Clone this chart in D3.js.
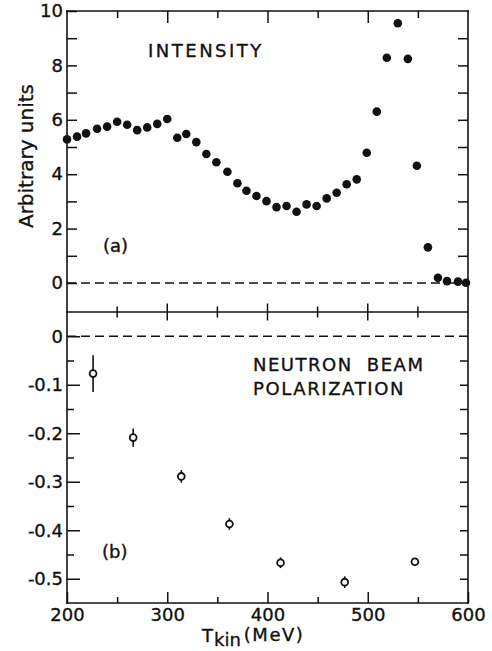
<!DOCTYPE html>
<html>
<head>
<meta charset="utf-8">
<script src="https://cdn.jsdelivr.net/npm/d3@7"></script>
<style>
body { margin: 0; background: #fff; }
svg { display: block; }
</style>
</head>
<body>
<script>
//Values

//(a) intensity, kinetic energy in MeV
var kinEnergy = [200, 210, 219, 230, 240, 250, 260, 270, 280, 290, 300, 310, 319, 329, 339, 349, 360, 370, 379, 389,
                 399, 409, 419, 429, 439, 449, 459, 469, 479, 489, 499, 509, 519, 530, 540, 549, 560, 570, 579, 590, 598];
var intensity = [5.28, 5.38, 5.50, 5.67, 5.75, 5.93, 5.82, 5.62, 5.72, 5.85, 6.03, 5.34, 5.48, 5.18, 4.74, 4.44, 4.09, 3.67, 3.39, 3.20,
                 3.01, 2.79, 2.83, 2.62, 2.89, 2.83, 3.11, 3.32, 3.63, 3.81, 4.79, 6.30, 8.28, 9.55, 8.24, 4.31, 1.31, 0.19, 0.07, 0.05, 0.01];

//(b) neutron beam polarization
var polEnergy = [226, 266, 314, 362, 413, 477, 547];
var polarization = [-0.077, -0.209, -0.289, -0.387, -0.467, -0.507, -0.465];
var polError = [0.038, 0.019, 0.013, 0.012, 0.011, 0.012, 0.004];

//ticks
var xMajorTicks = [200, 300, 400, 500, 600];
var xTickLabels = ["200", "300", "400", "500", "600"];
var xMinorTicks = [250, 350, 450, 550];
var topMajorTicks = [0, 2, 4, 6, 8, 10];
var topTickLabels = ["0", "2", "4", "6", "8", "10"];
var topMinorTicks = [1, 3, 5, 7, 9];
var topRightTicks = [1, 2, 3, 4, 5, 6, 7, 8, 9];
var botMajorTicks = [0, -0.1, -0.2, -0.3, -0.4, -0.5];
var botTickLabels = ["0", "-0.1", "-0.2", "-0.3", "-0.4", "-0.5"];
var botMinorTicks = [-0.05, -0.15, -0.25, -0.35, -0.45];
var botRightTicks = [-0.05, -0.1, -0.15, -0.2, -0.25, -0.3, -0.35, -0.4, -0.45, -0.5];

var ink = "#111";
var font = "DejaVu Sans";

var svg = d3.select("body")
            .append("svg")
            .attr("width", 492)
            .attr("height", 651);

var x = d3.scaleLinear().domain([200, 600]).range([67, 468]);
var yTop = d3.scaleLinear().domain([0, 10]).range([283, 11]);
var yBot = d3.scaleLinear().domain([-0.55, 0.05]).range([603, 312]);

//draws an axis, drops the domain path and styles what is left
function drawAxis(axis, tx, ty){
	var g = svg.append("g")
	           .attr("transform", "translate(" + tx + "," + ty + ")")
	           .call(axis);
	g.select(".domain").remove();
	g.selectAll("line").attr("stroke", ink).attr("stroke-width", 1.5);
	g.selectAll("text")
	 .attr("fill", ink)
	 .attr("stroke", ink)
	 .attr("stroke-width", 0.35)
	 .style("font-family", font)
	 .style("font-size", "18px");
	return g;
}

//top panel, left
drawAxis(d3.axisLeft(yTop).tickValues(topMajorTicks).tickSize(-10).tickPadding(4)
           .tickFormat(function(d, i){ return topTickLabels[i]; }), x(200), 0);
drawAxis(d3.axisLeft(yTop).tickValues(topMinorTicks).tickSize(-10).tickFormat(""), x(200), 0);
//top panel, right
drawAxis(d3.axisRight(yTop).tickValues(topRightTicks).tickSize(-10).tickFormat(""), x(600), 0);
//top border
drawAxis(d3.axisTop(x).tickValues([300, 400, 500]).tickSize(-12).tickFormat(""), 0, yTop(10));
drawAxis(d3.axisTop(x).tickValues(xMinorTicks).tickSize(-7).tickFormat(""), 0, yTop(10));

//bottom panel, left
drawAxis(d3.axisLeft(yBot).tickValues(botMajorTicks).tickSize(-13).tickPadding(4)
           .tickFormat(function(d, i){ return botTickLabels[i]; }), x(200), 0);
drawAxis(d3.axisLeft(yBot).tickValues(botMinorTicks).tickSize(-7).tickFormat(""), x(200), 0);
//bottom panel, right
drawAxis(d3.axisRight(yBot).tickValues(botRightTicks).tickSize(-8).tickFormat(""), x(600), 0);
//bottom x axis
drawAxis(d3.axisBottom(x).tickValues(xMajorTicks).tickSize(-11).tickPadding(5)
           .tickFormat(function(d, i){ return xTickLabels[i]; }), 0, yBot(-0.55));
drawAxis(d3.axisBottom(x).tickValues(xMinorTicks).tickSize(-6).tickFormat(""), 0, yBot(-0.55));

//ticks crossing the line between the panels
var midY = yBot(0.05);
svg.selectAll(".midtick")
   .data([300, 400, 500].map(function(v){ return {v: v, h: 8.5}; })
         .concat(xMinorTicks.map(function(v){ return {v: v, h: 5.5}; })))
   .enter()
   .append("line")
   .attr("class", "midtick")
   .attr("x1", function(d){ return x(d.v); })
   .attr("x2", function(d){ return x(d.v); })
   .attr("y1", function(d){ return midY - d.h; })
   .attr("y2", function(d){ return midY + d.h; })
   .attr("stroke", ink)
   .attr("stroke-width", 1.5);

//frame
var frame = [
	[x(200), yTop(10), x(200), yBot(-0.55)],
	[x(600), yTop(10), x(600), yBot(-0.55)],
	[x(200), yTop(10), x(600), yTop(10)],
	[x(200), midY, x(600), midY],
	[x(200), yBot(-0.55), x(600), yBot(-0.55)]];
svg.selectAll(".frame")
   .data(frame)
   .enter()
   .append("line")
   .attr("class", "frame")
   .attr("x1", function(d){ return d[0]; })
   .attr("y1", function(d){ return d[1]; })
   .attr("x2", function(d){ return d[2]; })
   .attr("y2", function(d){ return d[3]; })
   .attr("stroke", ink)
   .attr("stroke-width", 1.6)
   .attr("stroke-linecap", "square");

//zero lines
[yTop(0), yBot(0)].forEach(function(yy){
	svg.append("line")
	   .attr("x1", x(200)).attr("x2", x(600))
	   .attr("y1", yy).attr("y2", yy)
	   .attr("stroke", ink)
	   .attr("stroke-width", 1.3)
	   .attr("stroke-dasharray", "9,5");
});

//(a) filled dots
svg.selectAll(".dot")
   .data(kinEnergy)
   .enter()
   .append("circle")
   .attr("class", "dot")
   .attr("cx", function(d){ return x(d); })
   .attr("cy", function(d, i){ return yTop(intensity[i]); })
   .attr("r", 4.3)
   .attr("fill", ink);

//(b) error bars and open circles
svg.selectAll(".err")
   .data(polEnergy)
   .enter()
   .append("line")
   .attr("class", "err")
   .attr("x1", function(d){ return x(d); })
   .attr("x2", function(d){ return x(d); })
   .attr("y1", function(d, i){ return yBot(polarization[i] + polError[i]); })
   .attr("y2", function(d, i){ return yBot(polarization[i] - polError[i]); })
   .attr("stroke", ink)
   .attr("stroke-width", 1.6);

svg.selectAll(".pol")
   .data(polEnergy)
   .enter()
   .append("circle")
   .attr("class", "pol")
   .attr("cx", function(d){ return x(d); })
   .attr("cy", function(d, i){ return yBot(polarization[i]); })
   .attr("r", 3.4)
   .attr("fill", "#fff")
   .attr("stroke", ink)
   .attr("stroke-width", 1.8);

//texts
function label(txt, tx, ty, spacing){
	return svg.append("text")
	          .attr("x", tx)
	          .attr("y", ty)
	          .text(txt)
	          .attr("fill", ink)
	          .attr("stroke", ink)
	          .attr("stroke-width", 0.35)
	          .style("font-family", font)
	          .style("font-size", "18px")
	          .style("letter-spacing", spacing + "px");
}

label("INTENSITY", 148, 57, 2.5);
label("NEUTRON BEAM", 253, 371, 1.5).style("word-spacing", "7px");
label("POLARIZATION", 253, 395, 1.6);
label("(a)", 103, 252, 0);
label("(b)", 102, 558, 0);

svg.append("text")
   .attr("transform", "translate(33,156) rotate(-90)")
   .attr("text-anchor", "middle")
   .text("Arbitrary units")
   .attr("fill", ink)
   .attr("stroke", ink)
   .attr("stroke-width", 0.35)
   .style("font-family", font)
   .style("font-size", "20px");

var xTitle = svg.append("text")
                .attr("x", 202)
                .attr("y", 642)
                .attr("fill", ink)
                .attr("stroke", ink)
                .attr("stroke-width", 0.35)
                .style("font-family", font)
                .style("font-size", "18px");
xTitle.append("tspan").text("T");
xTitle.append("tspan").attr("dx", 1).attr("dy", 4).text("kin");
xTitle.append("tspan").attr("dx", 3).attr("dy", -5).style("letter-spacing", "1.5px").text("(MeV)");
</script>
</body>
</html>
